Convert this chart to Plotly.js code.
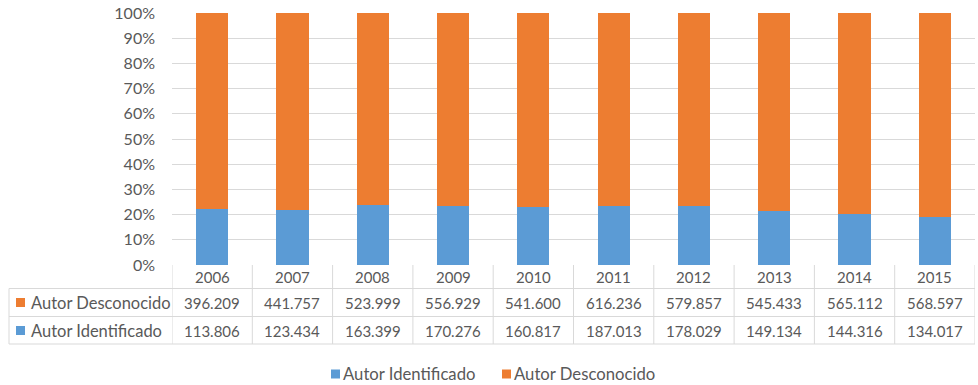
<!DOCTYPE html>
<html>
<head>
<meta charset="utf-8">
<script src="https://cdn.plot.ly/plotly-3.0.1.min.js"></script>
<style>html,body{margin:0;padding:0;background:#fff;}#chart{width:978px;height:385px;}</style>
</head>
<body>
<div id="chart"></div>
<script>
const years = ["2006","2007","2008","2009","2010","2011","2012","2013","2014","2015"];
const autorIdentificado = [113806,123434,163399,170276,160817,187013,178029,149134,144316,134017];
const autorDesconocido = [396209,441757,523999,556929,541600,616236,579857,545433,565112,568597];
const seriesNames = ["Autor Identificado","Autor Desconocido"];
const colorIdent = "#5B9BD5";
const colorDesc = "#ED7D31";
const textColor = "#595959";
const lineColor = "#D9D9D9";
const FONT = "Lato, 'Open Sans', sans-serif";

function fmt(v){ return v.toString().replace(/\B(?=(\d{3})+(?!\d))/g, "."); }

// pixel geometry helpers (plot area: x 172..975, y 13..265)
const L = 172, R = 975, T = 13, B = 265;
const px2py = p => (B - p) / (B - T);
const px2px = p => (p - L) / (R - L);

const traces = [
  {type:"bar", name:seriesNames[0], x:years, y:autorIdentificado, marker:{color:colorIdent}, showlegend:false},
  {type:"bar", name:seriesNames[1], x:years, y:autorDesconocido, marker:{color:colorDesc}, showlegend:false}
];

const shapes = [];
const annotations = [];
const yRow1 = px2py(288.5), yRow2 = px2py(316.5), yRow3 = px2py(344);
const xLeft = px2px(9);
// horizontal table lines
[yRow1, yRow2, yRow3].forEach(y => shapes.push({type:"line", xref:"paper", yref:"paper", x0:xLeft, x1:1, y0:y, y1:y, line:{color:lineColor, width:1}}));
shapes.push({type:"line", xref:"paper", yref:"paper", x0:xLeft, x1:xLeft, y0:yRow1, y1:yRow3, line:{color:lineColor, width:1}});
// vertical column lines
for (let i = 0; i <= years.length; i++) {
  shapes.push({type:"line", xref:"x", yref:"paper", x0:i-0.5, x1:i-0.5, y0:0, y1:yRow3, line:{color:lineColor, width:1}});
}
// year headers and values
years.forEach((yr, i) => {
  annotations.push({xref:"x", yref:"paper", x:i, y:px2py(277), text:yr, showarrow:false, xanchor:"center", yanchor:"middle", font:{family:FONT, size:15, color:textColor}});
  annotations.push({xref:"x", yref:"paper", x:i, y:px2py(302.5), text:fmt(autorDesconocido[i]), showarrow:false, xanchor:"center", yanchor:"middle", font:{family:FONT, size:15, color:textColor}});
  annotations.push({xref:"x", yref:"paper", x:i, y:px2py(330.5), text:fmt(autorIdentificado[i]), showarrow:false, xanchor:"center", yanchor:"middle", font:{family:FONT, size:15, color:textColor}});
});
// row labels with colour keys
[[seriesNames[1], colorDesc, 302.5],[seriesNames[0], colorIdent, 330.5]].forEach(([name, col, py]) => {
  shapes.push({type:"rect", xref:"paper", yref:"paper", x0:px2px(16), x1:px2px(25), y0:px2py(py+4.5), y1:px2py(py-4.5), fillcolor:col, line:{width:0}});
  annotations.push({xref:"paper", yref:"paper", x:px2px(29), y:px2py(py), text:name, showarrow:false, xanchor:"left", yanchor:"middle", font:{family:FONT, size:16.5, color:textColor}});
});
// legend below the table
[[seriesNames[0], colorIdent, 331],[seriesNames[1], colorDesc, 502]].forEach(([name, col, px]) => {
  shapes.push({type:"rect", xref:"paper", yref:"paper", x0:px2px(px), x1:px2px(px+9), y0:px2py(378.5), y1:px2py(369.5), fillcolor:col, line:{width:0}});
  annotations.push({xref:"paper", yref:"paper", x:px2px(px+10), y:px2py(373.5), text:name, showarrow:false, xanchor:"left", yanchor:"middle", font:{family:FONT, size:16.7, color:textColor}});
});

const layout = {
  width:978, height:385,
  margin:{l:L, r:978-R, t:T, b:385-B, autoexpand:false},
  paper_bgcolor:"#fff", plot_bgcolor:"#fff",
  barmode:"stack", barnorm:"percent", bargap:0.6,
  font:{family:FONT, size:15, color:textColor},
  xaxis:{type:"category", showticklabels:false, ticks:"", showgrid:false, zeroline:false, showline:false, range:[-0.5, years.length-0.5], fixedrange:true},
  yaxis:{range:[0,100], dtick:10, ticksuffix:"%", showgrid:true, gridcolor:lineColor, gridwidth:1, zeroline:false, showline:false, ticks:"", tickfont:{family:FONT, size:16, color:textColor}, ticklabelstandoff:16, fixedrange:true},
  showlegend:false,
  shapes:shapes,
  annotations:annotations
};

Plotly.newPlot("chart", traces, layout, {displayModeBar:false, staticPlot:true});
</script>
</body>
</html>
